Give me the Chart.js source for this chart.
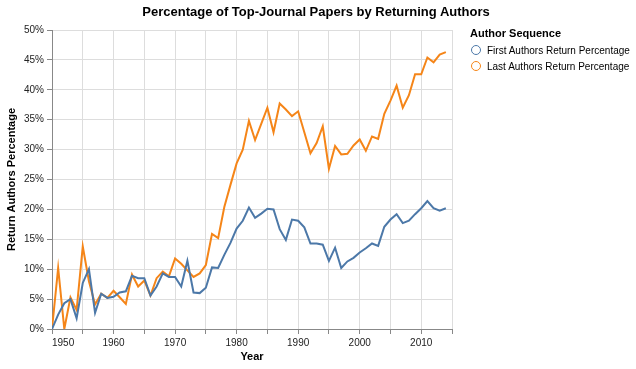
<!DOCTYPE html>
<html>
<head>
<meta charset="utf-8">
<script src="https://cdn.jsdelivr.net/npm/chart.js@4"></script>
<style>
  body { margin: 0; background: #fff; font-family: "Liberation Sans", Arial, sans-serif; }
  #wrap { position: relative; width: 636px; height: 369px; }
  #title { position: absolute; left: 0; width: 632px; top: 4px; text-align: center;
           font-weight: bold; font-size: 13px; color: #000; }
  #legend { position: absolute; left: 470px; top: 27px; font-size: 10px; color: #000; }
  #legend .head { font-weight: bold; font-size: 11px; margin-bottom: 3px; }
  #legend .row { height: 16px; display: flex; align-items: center; }
  #legend .dot { width: 8px; height: 8px; border-radius: 50%; border: 1.5px solid; margin: 0 6px 0 1px; }
</style>
</head>
<body>
<div id="wrap">
  <canvas id="chart" width="636" height="369"></canvas>
  <div id="title">Percentage of Top-Journal Papers by Returning Authors</div>
  <div id="legend">
    <div class="head">Author Sequence</div>
    <div class="row"><span class="dot" style="border-color:#4c78a8"></span>First Authors Return Percentage</div>
    <div class="row"><span class="dot" style="border-color:#f58518"></span>Last Authors Return Percentage</div>
  </div>
</div>
<script>
// values (percent)
const years = [];
for (let y = 1950; y <= 2014; y++) years.push(y);

const firstAuthors = [
  0, 2.4, 4.3, 5.0, 1.8, 7.7, 10.0, 2.7, 5.9, 5.2,
  5.4, 6.1, 6.3, 8.9, 8.5, 8.5, 5.6, 7.1, 9.3, 8.7,
  8.7, 7.1, 11.4, 6.1, 6.0, 6.9, 10.3, 10.2, 12.4, 14.4,
  16.8, 18.1, 20.3, 18.6, 19.3, 20.1, 20.0, 16.7, 14.9, 18.3,
  18.1, 17.0, 14.3, 14.3, 14.1, 11.4, 13.6, 10.2, 11.3, 11.9,
  12.8, 13.5, 14.3, 13.9, 17.1, 18.3, 19.2, 17.7, 18.1, 19.2,
  20.2, 21.4, 20.2, 19.8, 20.2
];

const lastAuthors = [
  0, 10.2, 0, 5.3, 3.2, 13.8, 8.0, 4.1, 5.9, 5.2,
  6.4, 5.3, 4.2, 9.1, 7.1, 8.1, 5.6, 8.5, 9.6, 8.8,
  11.8, 10.9, 9.8, 8.7, 9.3, 10.7, 15.9, 15.2, 20.4, 24.1,
  27.7, 30.0, 34.8, 31.6, 34.3, 37.0, 32.9, 37.7, 36.7, 35.6,
  36.4, 32.9, 29.4, 31.1, 33.9, 26.8, 30.6, 29.2, 29.3, 30.7,
  31.7, 29.8, 32.2, 31.8, 36.0, 38.2, 40.7, 37.0, 39.1, 42.6,
  42.6, 45.4, 44.6, 45.9, 46.3
];

const seriesNames = ["First Authors Return Percentage", "Last Authors Return Percentage"];

Chart.defaults.font.family = '"Liberation Sans", Arial, sans-serif';
Chart.defaults.color = '#222';

const toPoints = vals => years.map((yr, i) => ({ x: yr, y: vals[i] }));

new Chart(document.getElementById('chart'), {
  type: 'line',
  data: {
    datasets: [
      { label: seriesNames[0], data: toPoints(firstAuthors), borderColor: '#4c78a8', borderWidth: 2, pointRadius: 0, tension: 0 },
      { label: seriesNames[1], data: toPoints(lastAuthors), borderColor: '#f58518', borderWidth: 2, pointRadius: 0, tension: 0 }
    ]
  },
  options: {
    responsive: false,
    animation: false,
    layout: { padding: { top: 30, right: 184, left: 0, bottom: 0 } },
    plugins: { legend: { display: false }, title: { display: false }, tooltip: { enabled: false } },
    scales: {
      x: {
        type: 'linear',
        min: 1950,
        max: 2015,
        afterFit: s => { s.height = 40; },
        grid: { color: '#ddd', tickColor: '#888', tickLength: 5 },
        border: { color: '#888' },
        ticks: {
          stepSize: 5,
          align: 'inner',
          padding: 3,
          maxRotation: 0,
          font: { size: 10 },
          callback: v => (v % 10 === 0 ? String(v) : '')
        },
        title: { display: true, text: 'Year', font: { size: 11, weight: 'bold' }, color: '#000', padding: { top: 0, bottom: 5 } }
      },
      y: {
        min: 0,
        max: 50,
        afterFit: s => { s.width = 52; },
        grid: { color: '#ddd', tickColor: '#888', tickLength: 5 },
        border: { color: '#888' },
        ticks: { stepSize: 5, padding: 3, font: { size: 10 }, callback: v => v + '%' },
        title: { display: true, text: 'Return Authors Percentage', font: { size: 11, weight: 'bold' }, color: '#000', padding: { top: 5, bottom: 0 } }
      }
    }
  }
});
</script>
</body>
</html>
